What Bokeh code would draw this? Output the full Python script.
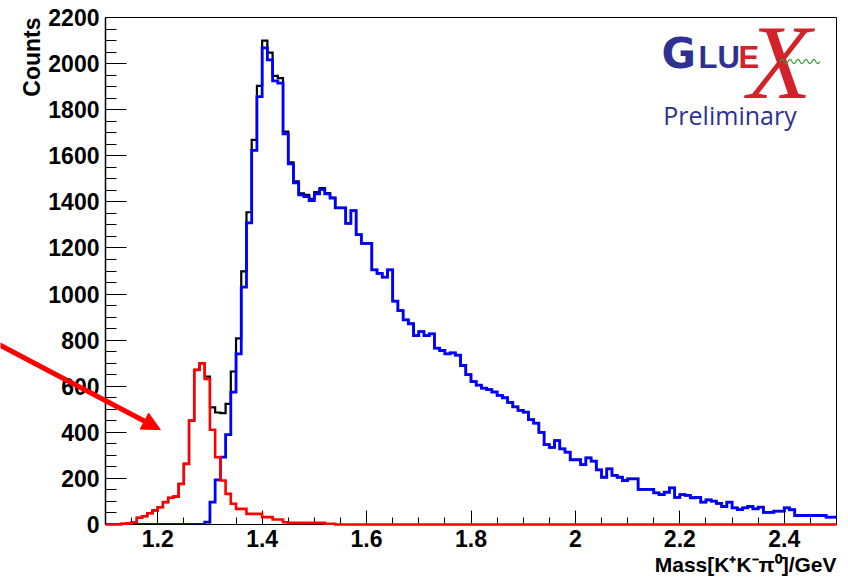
import numpy as np
from bokeh.plotting import figure
from bokeh.models import (Range1d, SingleIntervalTicker, CustomJSTickFormatter,
                          Label, Title, Arrow, NormalHead, Row)
from bokeh.embed import file_html
from bokeh.resources import INLINE

# Binning of the K+ K- pi0 invariant mass histograms (GeV)
bin_lo = 1.10
bin_width = 0.01
n_bins = 140

# Red histogram: narrow peak near 1.28 GeV
red_counts = [
    0, 0, 0, 3, 5, 10, 29, 36, 49, 61,
    75, 97, 116, 121, 176, 263, 451, 671, 700, 632,
    411, 292, 191, 133, 90, 68, 68, 46, 46, 46,
    32, 32, 22, 22, 10, 7, 7, 7, 7, 7,
    7, 7, 3, 3, 0, 0, 0, 0, 0, 0,
] + [0] * 90

# Blue histogram: broad structure peaking at 1.40 GeV
blue_counts = [
    0, 0, 0, 0, 0, 0, 0, 0, 0, 0,
    0, 0, 0, 0, 0, 0, 0, 0, 0, 10,
    97, 194, 292, 390, 574, 740, 1030, 1309, 1623, 1857,
    2068, 2016, 1925, 1915, 1695, 1565, 1482, 1430, 1423, 1406,
    1435, 1453, 1435, 1416, 1374, 1374, 1307, 1362, 1258, 1220,
    1220, 1105, 1090, 1073, 1105, 969, 928, 888, 871, 820,
    837, 820, 827, 765, 755, 740, 745, 735, 690, 650,
    620, 605, 592, 585, 575, 560, 550, 530, 510, 495,
    488, 455, 440, 400, 347, 335, 364, 328, 314, 281,
    281, 260, 289, 275, 237, 205, 241, 213, 205, 191,
    198, 198, 152, 152, 152, 137, 130, 140, 159, 118,
    130, 126, 116, 118, 97, 107, 101, 92, 78, 97,
    72, 65, 72, 78, 68, 75, 53, 53, 58, 58,
    72, 64, 39, 39, 39, 39, 39, 39, 32, 32,
]

# Black histogram: all candidates
black_counts = [
    0, 0, 0, 3, 5, 10, 29, 36, 49, 61,
    75, 97, 116, 121, 176, 263, 451, 671, 700, 642,
    508, 486, 483, 523, 664, 808, 1098, 1355, 1669, 1903,
    2100, 2048, 1947, 1937, 1705, 1572, 1489, 1437, 1430, 1413,
    1442, 1460, 1438, 1419, 1374, 1374, 1307, 1362, 1258, 1220,
    1220, 1105, 1090, 1073, 1105, 969, 928, 888, 871, 820,
    837, 820, 827, 765, 755, 740, 745, 735, 690, 650,
    620, 605, 592, 585, 575, 560, 550, 530, 510, 495,
    488, 455, 440, 400, 347, 335, 364, 328, 314, 281,
    281, 260, 289, 275, 237, 205, 241, 213, 205, 191,
    198, 198, 152, 152, 152, 137, 130, 140, 159, 118,
    130, 126, 116, 118, 97, 107, 101, 92, 78, 97,
    72, 65, 72, 78, 68, 75, 53, 53, 58, 58,
    72, 64, 39, 39, 39, 39, 39, 39, 32, 32,
]

x_title = "Mass[K\u207aK\u207b\u03c0\u2070]/GeV"
y_title = "Counts"

# page and frame geometry (pixels)
W, H = 848, 579
B_LEFT, B_RIGHT, B_TOP, B_BOTTOM = 105, 12, 17, 55
X_LO, X_HI, Y_LO, Y_HI = 1.1, 2.5, 0, 2200

edges = np.round(bin_lo + bin_width * np.arange(n_bins + 1), 4)


def step_outline(counts):
    xs = np.repeat(edges, 2)[1:-1]
    ys = np.repeat(np.asarray(counts, dtype=float), 2)
    return xs, ys


p = figure(width=W, height=H, output_backend="svg", toolbar_location=None,
           title=None,
           x_range=Range1d(X_LO, X_HI), y_range=Range1d(Y_LO, Y_HI),
           min_border_left=B_LEFT, min_border_right=B_RIGHT,
           min_border_top=B_TOP, min_border_bottom=B_BOTTOM)
p.background_fill_color = "white"
p.border_fill_color = "white"
p.outline_line_color = "black"
p.outline_line_width = 1
p.grid.visible = False

tick_font = "Liberation Sans"

# x axis: ROOT-style inward ticks
p.xaxis.ticker = SingleIntervalTicker(interval=0.2, num_minor_ticks=4)
p.xaxis.formatter = CustomJSTickFormatter(code="return (Math.round(tick*10)/10).toString();")
p.xaxis.major_tick_in = 14
p.xaxis.major_tick_out = 0
p.xaxis.minor_tick_in = 7
p.xaxis.minor_tick_out = 0
p.xaxis.axis_line_color = "black"
p.xaxis.major_label_standoff = 5
p.xaxis.major_label_text_font = tick_font
p.xaxis.major_label_text_font_style = "bold"
p.xaxis.major_label_text_font_size = "23px"
p.xaxis.major_label_text_color = "black"

# y axis
p.yaxis.ticker = SingleIntervalTicker(interval=200, num_minor_ticks=4)
p.yaxis.major_tick_in = 21
p.yaxis.major_tick_out = 0
p.yaxis.minor_tick_in = 11
p.yaxis.minor_tick_out = 0
p.yaxis.axis_line_color = "black"
p.yaxis.axis_line_width = 1.5
p.yaxis.major_label_standoff = 6
p.yaxis.major_label_text_font = tick_font
p.yaxis.major_label_text_font_style = "bold"
p.yaxis.major_label_text_font_size = "23px"
p.yaxis.major_label_text_color = "black"

# histograms, total first, then components on top
bx, by = step_outline(black_counts)
p.line(bx, by, line_color="black", line_width=2.2, line_join="miter")
ux, uy = step_outline(blue_counts)
p.line(ux, uy, line_color="#0000ff", line_width=2.8, line_join="miter")
rx, ry = step_outline(red_counts)
p.line(rx, ry, line_color="#ff0000", line_width=2.6, line_join="miter", level="overlay")

# axis titles at the far ends of the axes
p.add_layout(Title(text=x_title, align="right", text_font=tick_font,
                   text_font_style="bold", text_font_size="21px",
                   text_color="black", standoff=2), "below")
p.add_layout(Title(text=y_title, align="right", text_font=tick_font,
                   text_font_style="bold", text_font_size="23px",
                   text_color="black", standoff=2), "left")

# GlueX logo
logo_blue = "#2e3192"
logo_red = "#d2232a"
p.add_layout(Label(x=2.1648, y=1939, text="G", text_font="DejaVu Sans",
                   text_font_style="bold", text_font_size="42px",
                   text_color=logo_blue))
p.add_layout(Label(x=2.2357, y=1950, text="LU", text_font="Liberation Sans",
                   text_font_style="bold", text_font_size="31px",
                   text_color=logo_blue))
p.add_layout(Label(x=2.3123, y=1950, text="E", text_font="Liberation Sans",
                   text_font_style="bold", text_font_size="31px",
                   text_color=logo_red))
p.add_layout(Label(x=2.3295, y=1753, text="X", text_font="Liberation Serif",
                   text_font_style="italic", text_font_size="105px",
                   text_color=logo_red))
# photon wiggle of the logo
wx = np.linspace(2.392, 2.468, 80)
wy = 2009 + 9 * np.sin((wx - 2.392) / 0.076 * 5 * 2 * np.pi)
p.line(wx, wy, line_color="#3a9b3a", line_width=1.2, level="overlay")
p.add_layout(Label(x=2.296, y=1701, text="Preliminary", text_align="center",
                   text_font="Open Sans", text_font_size="25px", text_color=logo_blue))

# transparent overlay sharing the chart's data mapping, widened to the full
# page width so that the arrow can start left of the frame
sx = (W - B_LEFT - B_RIGHT) / (X_HI - X_LO)
ov = figure(width=W, height=H, output_backend="svg", toolbar_location=None,
            title=None, x_axis_type=None, y_axis_type=None,
            min_border_left=0, min_border_right=0,
            min_border_top=B_TOP, min_border_bottom=B_BOTTOM,
            x_range=Range1d(X_LO - B_LEFT / sx, X_HI + B_RIGHT / sx),
            y_range=Range1d(Y_LO, Y_HI))
ov.outline_line_color = None
ov.background_fill_alpha = 0
ov.border_fill_alpha = 0
ov.grid.visible = False
ov.styles = {"position": "absolute", "left": "0px", "top": "0px",
             "pointer-events": "none"}

arrow_start = (0.88, 800)
arrow_end = (1.205, 412)
ov.add_layout(Arrow(x_start=arrow_start[0], y_start=arrow_start[1],
                    x_end=arrow_end[0], y_end=arrow_end[1],
                    line_color="#ff0000", line_width=5,
                    end=NormalHead(size=18, fill_color="#ff0000", line_color="#ff0000")))

page = Row(children=[p, ov])
open("out.html", "w").write(file_html(page, INLINE))
